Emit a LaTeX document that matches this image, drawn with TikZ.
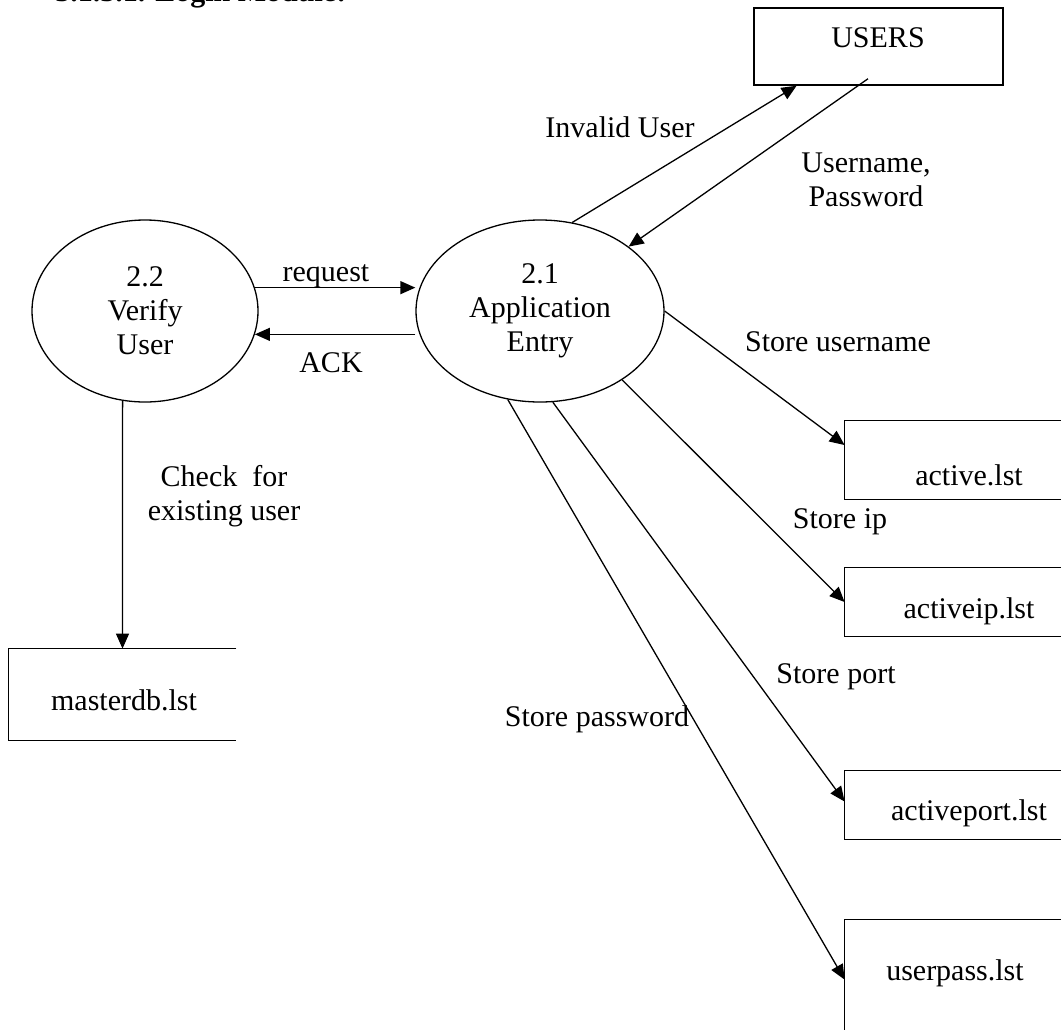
\documentclass[tikz,border=0pt]{standalone}
\usepackage{fontspec}
\setmainfont{Liberation Serif}
\usetikzlibrary{shapes.geometric,arrows.meta,calc}

\begin{document}
\begin{tikzpicture}[x=0.5pt,y=-0.5pt,
  every node/.style={inner sep=0pt, font=\fontsize{15}{17}\selectfont},
  proc/.style={draw, ellipse, line width=0.65pt, align=center},
  entity/.style={draw, rectangle, line width=0.75pt},
  store/.style={rectangle},
  edge/.style={line width=0.75pt},
  flow/.style={line width=0.65pt, -{Triangle[length=7.5pt,width=6.5pt]}},
  lbl/.style={anchor=base},
  mlbl/.style={align=center, anchor=north}]

\useasboundingbox (0,0) rectangle (1061,1029);
\clip (0,0) rectangle (1061,1029);

% heading (cut off by the page top)
\node[anchor=base west, font=\bfseries\fontsize{15}{17}\selectfont] (title) at (55,1) {3.1.3.1. Login Module:};

% processes
\node[proc, minimum width=113pt, minimum height=91pt] (v) at (145,311) {2.2\\Verify\\User};
\node[proc, minimum width=124pt, minimum height=91pt] (app) at (540,311) {2.1\\Application\\Entry};

% external entity
\node[entity, minimum width=124.5pt, minimum height=38.5pt] (users) at (878.5,46.5) {};
\node[lbl] (userst) at (878,47) {USERS};

% data stores (open on the right)
\node[store, minimum width=113.5pt, minimum height=45.5pt] (mdb) at (122.5,694.5) {};
\node[store, minimum width=127.5pt, minimum height=39pt] (act) at (972.5,460) {};
\node[store, minimum width=127.5pt, minimum height=34pt] (aip) at (972.5,602) {};
\node[store, minimum width=127.5pt, minimum height=34pt] (aport) at (972.5,805) {};
\node[store, minimum width=127.5pt, minimum height=90pt] (upass) at (972.5,1010) {};
\foreach \s in {mdb,act,aip,aport,upass}
  \draw[edge] (\s.north east) -- (\s.north west) -- (\s.south west) -- (\s.south east);

\node[lbl] (mdbt) at (124,710) {masterdb.lst};
\node[lbl] (actt) at (969,485) {active.lst};
\node[lbl] (aipt) at (969,618) {activeip.lst};
\node[lbl] (aportt) at (969,820) {activeport.lst};
\node[lbl] (upasst) at (955,980) {userpass.lst};

% flows
\draw[flow] (app.70) -- ($(users.south west)!0.173!(users.south east)$);
\draw[flow] ($(users.south west)!0.458!(users.south east)+(0,-7)$) -- (app.36);
\draw[flow] (v.12) -- (v.12 -| app.west);
\draw[flow] (app.west |- v.-12) -- (v.-12);
\draw[flow] (v.-104.2) -- (mdb.north);
\draw[flow] (app.0) -- ($(act.north west)!0.31!(act.south west)$);
\draw[flow] (app.-40.8) -- (aip.west);
\draw[flow] (app.-82.4) -- ($(aport.north west)!0.45!(aport.south west)$);
\draw[flow] (app.-110.3) -- ($(upass.north west)+(0,60)$);

% flow labels
\node[lbl] (l-inv) at (620,137) {Invalid User};
\node[mlbl] (l-up) at (866,152) {Username,\\Password};
\node[lbl] (l-req) at (326,281) {request};
\node[lbl] (l-ack) at (331,372) {ACK};
\node[mlbl] (l-chk) at (224,465) {Check\ \ for\\existing user};
\node[lbl] (l-su) at (838,351) {Store username};
\node[lbl] (l-sip) at (840,528) {Store ip};
\node[lbl] (l-sport) at (836,683) {Store port};
\node[lbl] (l-spw) at (597,726) {Store password};

\end{tikzpicture}
\end{document}
